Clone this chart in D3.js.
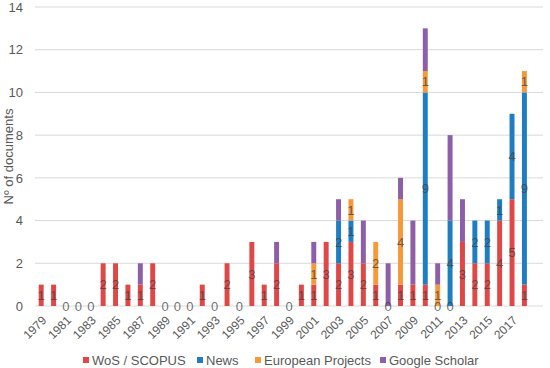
<!DOCTYPE html>
<html>
<head>
<meta charset="utf-8">
<script src="https://cdn.jsdelivr.net/npm/d3@7"></script>
<style>
  body { margin: 0; background: #fff; }
  svg { font-family: "Liberation Sans", Arial, sans-serif; }
</style>
</head>
<body>
<svg id="chart" width="550" height="368"></svg>
<script>
// categories (2019 is an empty slot at the end of the axis)
const years = d3.range(1979, 2020);
const tickYears = d3.range(1979, 2018, 2);

// series values, null = no segment
const wos = [1, 1, 0, 0, 0, 2, 2, 1, 1, 2, 0, 0, 0, 1, 0, 2, 0, 3, 1, 2,
             0, 1, 1, 3, 2, 3, 2, 1, 0, 1, 1, 1, 0, 0, 3, 2, 2, 4, 5, 1, null];
const news = [null, null, null, null, null, null, null, null, null, null, null, null, null, null, null, null, null, null, null, null,
              null, null, null, null, 2, 1, null, null, null, null, null, 9, null, 4, null, 2, 2, 1, 4, 9, null];
const euro = [null, null, null, null, null, null, null, null, null, null, null, null, null, null, null, null, null, null, null, null,
              null, null, 1, null, null, 1, null, 2, null, 4, null, 1, 1, null, null, null, null, null, null, 1, null];
const scholar = [null, null, null, null, null, null, null, null, 1, null, null, null, null, null, null, null, null, null, null, 1,
                 null, null, 1, null, 1, null, 2, null, 2, 1, 3, 2, 1, 4, 2, null, null, null, null, null, null];

const seriesNames = ["WoS / SCOPUS", "News", "European Projects", "Google Scholar"];
const seriesColors = ["#e04848", "#1f7ec2", "#f5993b", "#8d5fa8"];
const yTicks = d3.range(0, 15, 2);

const svg = d3.select("#chart");
const margin = {left: 35, right: 7, top: 7, bottom: 62};
const width = 550 - margin.left - margin.right;
const height = 368 - margin.top - margin.bottom;

const g = svg.append("g")
    .attr("transform", "translate(" + margin.left + "," + margin.top + ")");

const x = d3.scaleBand()
    .domain(years)
    .range([0, width])
    .paddingInner(0.6)
    .paddingOuter(0.3);

const y = d3.scaleLinear()
    .domain([0, 14])
    .range([height, 0]);

// gridlines
g.append("g").selectAll("line")
    .data(yTicks)
    .enter()
    .append("line")
    .attr("x1", 0)
    .attr("x2", width)
    .attr("y1", d => y(d))
    .attr("y2", d => y(d))
    .attr("stroke", "#d9d9d9")
    .attr("stroke-width", 1);

// y axis labels
const yAxis = g.append("g")
    .call(d3.axisLeft(y).tickValues(yTicks).tickSize(0).tickPadding(12));
yAxis.select(".domain").remove();
yAxis.selectAll("text")
    .attr("fill", "#595959")
    .style("font-size", "13px");

// y axis title
svg.append("text")
    .attr("transform", "translate(13," + (margin.top + height / 2) + ") rotate(-90)")
    .attr("text-anchor", "middle")
    .attr("fill", "#595959")
    .style("font-size", "13px")
    .text("Nº of documents");

// stack the series
const allSeries = [wos, news, euro, scholar];
let rows = years.map((yr, i) => ({year: yr, segs: []}));
rows.forEach((r, i) => {
    let base = 0;
    allSeries.forEach((s, k) => {
        const v = s[i];
        if (v === null) return;
        r.segs.push({year: r.year, k: k, v: v, y0: base, y1: base + v});
        base += v;
    });
});
const segs = rows.flatMap(r => r.segs);

g.append("g").selectAll("rect")
    .data(segs.filter(d => d.v > 0))
    .enter()
    .append("rect")
    .attr("x", d => x(d.year))
    .attr("width", x.bandwidth())
    .attr("y", d => y(d.y1))
    .attr("height", d => y(d.y0) - y(d.y1))
    .attr("fill", d => seriesColors[d.k]);

// data labels (Google Scholar has none)
g.append("g").selectAll("text")
    .data(segs.filter(d => d.k < 3))
    .enter()
    .append("text")
    .attr("x", d => x(d.year) + x.bandwidth() / 2)
    .attr("y", d => y((d.y0 + d.y1) / 2))
    .attr("dy", "0.36em")
    .attr("text-anchor", "middle")
    .attr("fill", "#404040")
    .attr("fill-opacity", 0.75)
    .style("font-size", "13px")
    .text(d => d.v);

// x axis labels
const xAxis = g.append("g")
    .attr("transform", "translate(0," + height + ")")
    .call(d3.axisBottom(x).tickValues(tickYears).tickSize(0).tickPadding(0));
xAxis.select(".domain").remove();
xAxis.selectAll("text")
    .attr("fill", "#595959")
    .style("font-size", "12px")
    .attr("text-anchor", "end")
    .attr("dy", "0.35em")
    .attr("transform", "translate(3,12) rotate(-45)");

// legend
const legendX = [83, 197, 255, 380];
const legend = svg.append("g").selectAll("g")
    .data(seriesNames)
    .enter()
    .append("g")
    .attr("transform", (d, i) => "translate(" + legendX[i] + ",360)");
legend.append("rect")
    .attr("x", 0)
    .attr("y", -3)
    .attr("width", 6)
    .attr("height", 6)
    .attr("fill", (d, i) => seriesColors[i]);
legend.append("text")
    .attr("x", 9)
    .attr("dy", "0.36em")
    .attr("fill", "#595959")
    .style("font-size", "13px")
    .text(d => d);
</script>
</body>
</html>
